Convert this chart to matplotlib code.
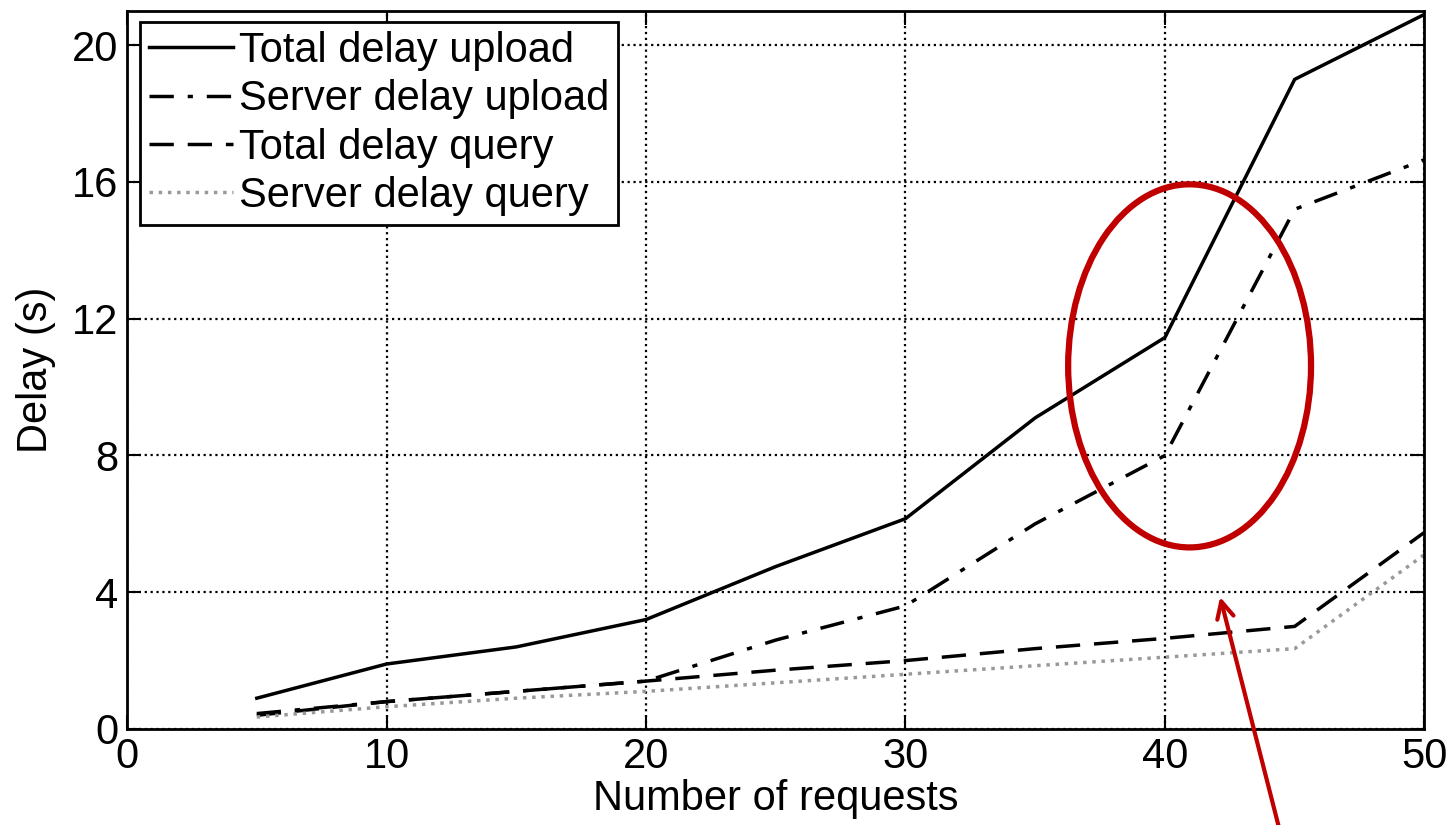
#! /usr/bin/env python3

import numpy as np
import matplotlib
matplotlib.use('Agg')
import matplotlib.pyplot as plt
from matplotlib.patches import Ellipse

# data
requests = [5, 10, 15, 20, 25, 30, 35, 40, 45, 50]
total_upload = [0.9, 1.9, 2.4, 3.2, 4.75, 6.15, 9.1, 11.45, 19.0, 20.9]
server_upload = [0.45, 0.8, 1.1, 1.4, 2.6, 3.6, 6.0, 8.0, 15.2, 16.65]
total_query = [0.4, 0.8, 1.1, 1.4, 1.72, 2.0, 2.35, 2.65, 3.0, 5.75]
server_query = [0.35, 0.65, 0.9, 1.1, 1.35, 1.6, 1.85, 2.1, 2.35, 5.1]

xticks = [0, 10, 20, 30, 40, 50]
yticks = [0, 4, 8, 12, 16, 20]

plt.rcParams['font.family'] = ['Liberation Sans', 'DejaVu Sans']
plt.rcParams['font.size'] = 30

fig = plt.figure(figsize=(14.52, 8.25), dpi=100)
ax = fig.add_axes([0.0875, 0.1164, 0.8935, 0.8703])

ax.plot(requests, total_upload, '-', color='black', lw=2.5, label='Total delay upload')
ax.plot(requests, server_upload, '-.', color='black', lw=2.5, dashes=(7, 4, 1.5, 4), label='Server delay upload')
ax.plot(requests, total_query, '--', color='black', lw=2.5, dashes=(7, 4), label='Total delay query')
ax.plot(requests, server_query, ':', color='#999999', lw=2.5, label='Server delay query')

ax.set_xlim(0, 50)
ax.set_ylim(0, 21)
ax.set_xticks(xticks)
ax.set_yticks(yticks)
ax.grid(True, linestyle=':', color='black', lw=1.6)
ax.tick_params(direction='in', length=10, width=1.5, top=True, right=True, pad=6)
for s in ax.spines.values():
	s.set_linewidth(2)

ax.set_xlabel('Number of requests', labelpad=1)
ax.set_ylabel('Delay (s)', labelpad=12)

leg = ax.legend(loc='upper left', bbox_to_anchor=(0.01, 0.985), frameon=True, fancybox=False,
	edgecolor='black', framealpha=1, handlelength=2.0, handletextpad=0.15,
	labelspacing=0.2, borderpad=0.22, borderaxespad=0.0)
leg.get_frame().set_linewidth(2)

# red highlight
ax.add_patch(Ellipse((40.95, 10.62), 9.36, 10.62, fill=False, edgecolor='#C00000', lw=4.5, zorder=5))
ax.annotate('', xy=(42.1, 3.94), xytext=(44.4, -2.9), xycoords='data', textcoords='data',
	annotation_clip=False,
	arrowprops=dict(arrowstyle='->', color='#C00000', lw=3, mutation_scale=30))

fig.savefig('out.png', dpi=100)
